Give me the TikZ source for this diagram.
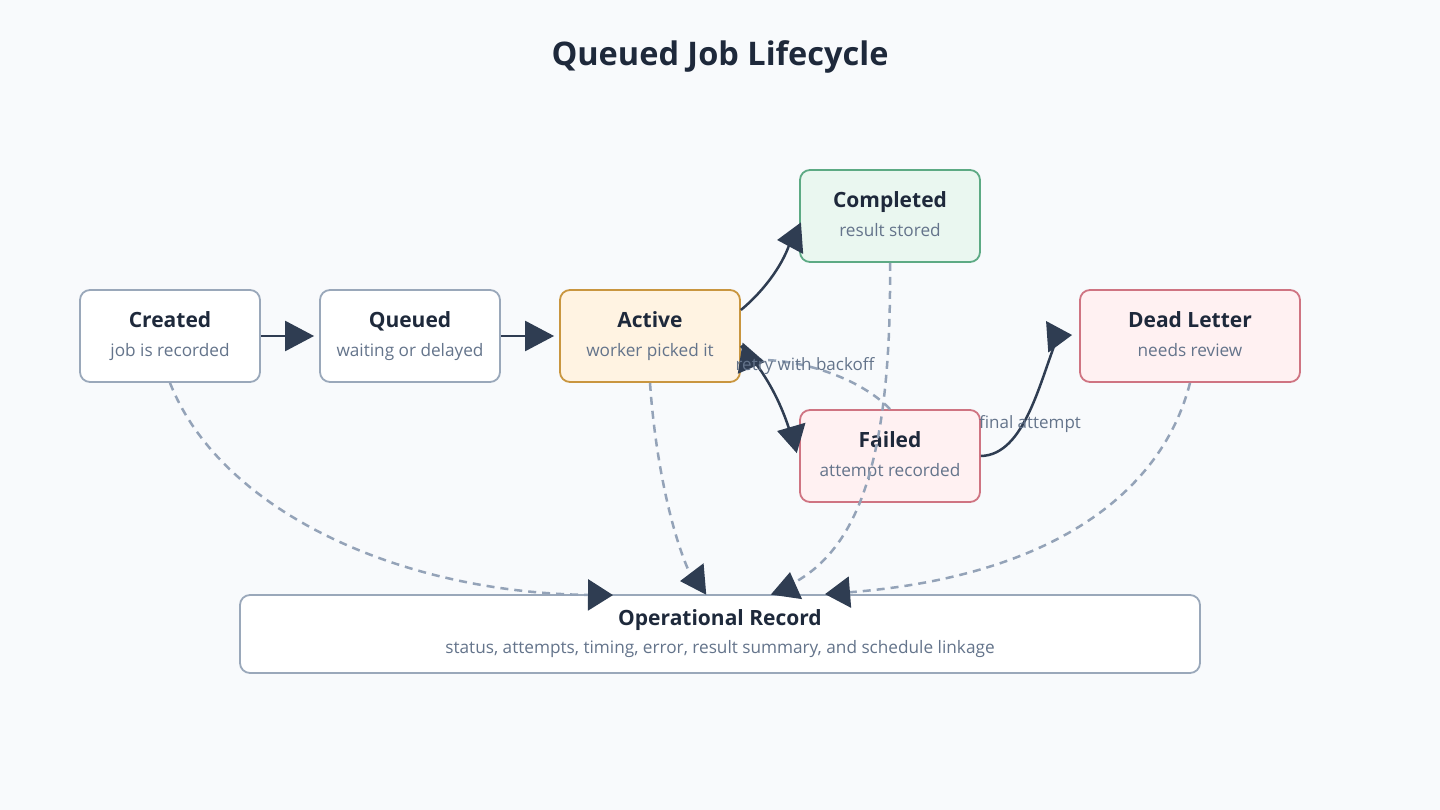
\documentclass[tikz,border=0pt]{standalone}
\usepackage{fontspec}
\setmainfont{Open Sans}
\usetikzlibrary{arrows.meta,calc}
\definecolor{bgc}{HTML}{F8FAFC}
\definecolor{titc}{HTML}{1E293B}
\definecolor{subc}{HTML}{64748B}
\definecolor{nborder}{HTML}{9AA8BA}
\definecolor{arrowc}{HTML}{2F3D52}
\definecolor{dashc}{HTML}{94A3B8}
\definecolor{actfill}{HTML}{FFF3E2}
\definecolor{actborder}{HTML}{C9963F}
\definecolor{okfill}{HTML}{EAF7F0}
\definecolor{okborder}{HTML}{5DAA84}
\definecolor{badfill}{HTML}{FFF1F2}
\definecolor{badborder}{HTML}{CF7482}
\newcommand\ndtitle[1]{{\fontsize{21}{29}\selectfont\bfseries\color{titc}#1}}
\newcommand\ndsub[1]{#1\vphantom{gy}}
\begin{document}
\begin{tikzpicture}[x=1pt,y=-1pt,
  box/.style={draw=nborder, fill=white, line width=1.8pt, rounded corners=10pt,
    minimum width=180pt, minimum height=92pt, align=center, inner sep=0pt,
    font=\fontsize{17.2}{29}\selectfont, text=subc},
  activebox/.style={box, draw=actborder, fill=actfill},
  okbox/.style={box, draw=okborder, fill=okfill},
  badbox/.style={box, draw=badborder, fill=badfill},
  solidedge/.style={draw=arrowc, line width=2.5pt},
  dashedge/.style={draw=dashc, line width=2.5pt, dash pattern=on 8pt off 6pt},
  tipH/.style={-{Triangle[length=29pt,width=30pt,color=arrowc,fill=arrowc]}},
  tipC/.style={-{Triangle[length=25pt,width=31pt,color=arrowc,fill=arrowc]}},
  lbl/.style={font=\fontsize{17}{20}\selectfont, text=subc, inner sep=0pt}
]
\fill[bgc] (0,0) rectangle (1440,810);
\useasboundingbox (0,0) rectangle (1440,810);

\node[text=titc, font=\fontsize{32.5}{38}\selectfont\bfseries] (title) at (720,57) {Queued Job Lifecycle};

\node[box] (created) at (170,336) {\ndtitle{Created}\\\ndsub{job is recorded}};
\node[box] (queued) at (410,336) {\ndtitle{Queued}\\\ndsub{waiting or delayed}};
\node[activebox] (active) at (650,336) {\ndtitle{Active}\\\ndsub{worker picked it}};
\node[okbox] (completed) at (890,216) {\ndtitle{Completed}\\\ndsub{result stored}};
\node[badbox] (failed) at (890,456) {\ndtitle{Failed}\\\ndsub{attempt recorded}};
\node[badbox, minimum width=220pt] (deadletter) at (1190,336) {\ndtitle{Dead Letter}\\\ndsub{needs review}};
\node[box, minimum width=960pt, minimum height=78pt, font=\fontsize{17.2}{28}\selectfont] (oprecord) at (720,634)
  {\ndtitle{Operational Record}\\\ndsub{status, attempts, timing, error, result summary, and schedule linkage}};

% dashed record links
\draw[dashedge, tipC] (created.south) .. controls (220,510) and (400,595) .. (598,595) -- ($(oprecord.north)+(-107,1)$);
\draw[dashedge, tipC] (active.south) .. controls (656,470) and (675,545) .. (693,580) -- ($(oprecord.north)+(-40,-13)$);
\draw[dashedge, tipC] (completed.south) .. controls (892,480) and (850,555) .. (788,586) -- ($(oprecord.north)+(70,-22)$);
\draw[dashedge, tipC] (deadletter.south) .. controls (1160,500) and (1040,580) .. (839,593) -- ($(oprecord.north)+(105,0)$);

% retry
\draw[dashedge, tipC] (failed.north) .. controls (860,378) and (800,358) .. (752,360) -- ($(active.east)+(24,26)$);

% main flow
\draw[solidedge, tipH, shorten >=5pt] (created) -- (queued);
\draw[solidedge, tipH, shorten >=5pt] (queued) -- (active);
\draw[solidedge, tipC] ([yshift=26pt]active.east) .. controls (765,290) and (785,262) .. (791,239) -- ($(completed.west)+(-22,24)$);
\draw[solidedge, tipC] ([yshift=-10pt]active.east) .. controls (762,368) and (780,398) .. (791,435) -- ($(failed.west)+(-22,-25)$);
\draw[solidedge, tipC] (failed.east) .. controls (1025,455) and (1040,380) .. (1058,336) -- ($(deadletter.west)+(-7,-1)$);

% labels
\node[lbl] (retrylbl) at (805,366) {retry with backoff};
\node[lbl] (finallbl) at (1030,424) {final attempt};
\end{tikzpicture}
\end{document}
